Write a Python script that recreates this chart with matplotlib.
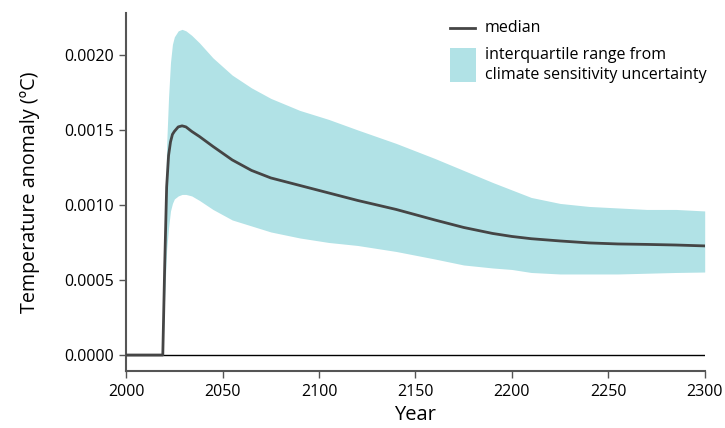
import matplotlib.pyplot as plt
from matplotlib.patches import Rectangle
from matplotlib.lines import Line2D

# values
years = [2000, 2019, 2020, 2021, 2022, 2023, 2024, 2025, 2027, 2029, 2031, 2034, 2038,
         2045, 2055, 2065, 2075, 2090, 2105, 2120, 2140, 2160, 2175, 2190, 2200,
         2210, 2225, 2240, 2255, 2270, 2285, 2300]
median = [0, 0, 0.0006, 0.00112, 0.00133, 0.00142, 0.00147, 0.00149, 0.00152, 0.001527,
          0.00152, 0.00149, 0.001456, 0.00139, 0.00130, 0.00123, 0.00118, 0.00113,
          0.00108, 0.00103, 0.00097, 0.00090, 0.00085, 0.00081, 0.00079, 0.000775,
          0.00076, 0.000747, 0.00074, 0.000737, 0.000733, 0.000727]
upper = [0, 0, 0.0008, 0.0014, 0.00172, 0.00195, 0.00207, 0.00212, 0.00216, 0.00217,
         0.00216, 0.00213, 0.00208, 0.00198, 0.001865, 0.00178, 0.00171, 0.00163,
         0.00157, 0.00150, 0.00141, 0.00131, 0.00123, 0.00115, 0.00110, 0.00105,
         0.00101, 0.00099, 0.00098, 0.00097, 0.00097, 0.00096]
lower = [0, 0, 0.0004, 0.0007, 0.00085, 0.00096, 0.00101, 0.00104, 0.00106, 0.00107,
         0.00107, 0.00106, 0.00103, 0.00097, 0.00090, 0.00086, 0.00082, 0.00078,
         0.00075, 0.00073, 0.00069, 0.00064, 0.00060, 0.00058, 0.00057, 0.00055,
         0.00054, 0.00054, 0.00054, 0.000545, 0.00055, 0.000553]

band_color = '#b1e2e6'
line_color = '#454545'
spine_color = '#555555'

plt.rcParams['font.family'] = ['Open Sans', 'DejaVu Sans']

fig = plt.figure(figsize=(7.25, 4.28), dpi=100)
ax = fig.add_axes([0.174, 0.133, 0.798, 0.837])

ax.fill_between(years, lower, upper, color=band_color, linewidth=0, zorder=1)
ax.axhline(0, color='black', linewidth=1, zorder=2)
ax.plot(years, median, color=line_color, linewidth=2, solid_joinstyle='round', zorder=3)

ax.set_xlim(2000, 2300)
ax.set_ylim(-0.000107, 0.00228)
ax.set_xticks([2000, 2050, 2100, 2150, 2200, 2250, 2300])
ax.set_yticks([0, 0.0005, 0.001, 0.0015, 0.002])
ax.set_yticklabels(['0.0000', '0.0005', '0.0010', '0.0015', '0.0020'])

for s in ['top', 'right']:
    ax.spines[s].set_visible(False)
for s in ['left', 'bottom']:
    ax.spines[s].set_color(spine_color)
    ax.spines[s].set_linewidth(1.5)
ax.tick_params(direction='out', length=5, width=1, color=spine_color,
               labelsize=11.5, pad=4)

ax.set_xlabel('Year', fontsize=14.5, labelpad=4)
ax.set_ylabel('Temperature anomaly (ºC)', fontsize=14.2, labelpad=17)

# legend drawn by hand to match the tall patch
fig.add_artist(Line2D([450/725, 475/725], [1 - 28/428, 1 - 28/428],
                      color=line_color, linewidth=2))
fig.text(485/725, 1 - 28/428, 'median', fontsize=11.5, va='center')
fig.add_artist(Rectangle((450/725, 1 - 82/428), 26/725, 34/428,
                         color=band_color, linewidth=0))
fig.text(485/725, 1 - 55/428, 'interquartile range from', fontsize=11.5, va='center')
fig.text(485/725, 1 - 75/428, 'climate sensitivity uncertainty', fontsize=11.5, va='center')

fig.savefig('out.png', dpi=100)
